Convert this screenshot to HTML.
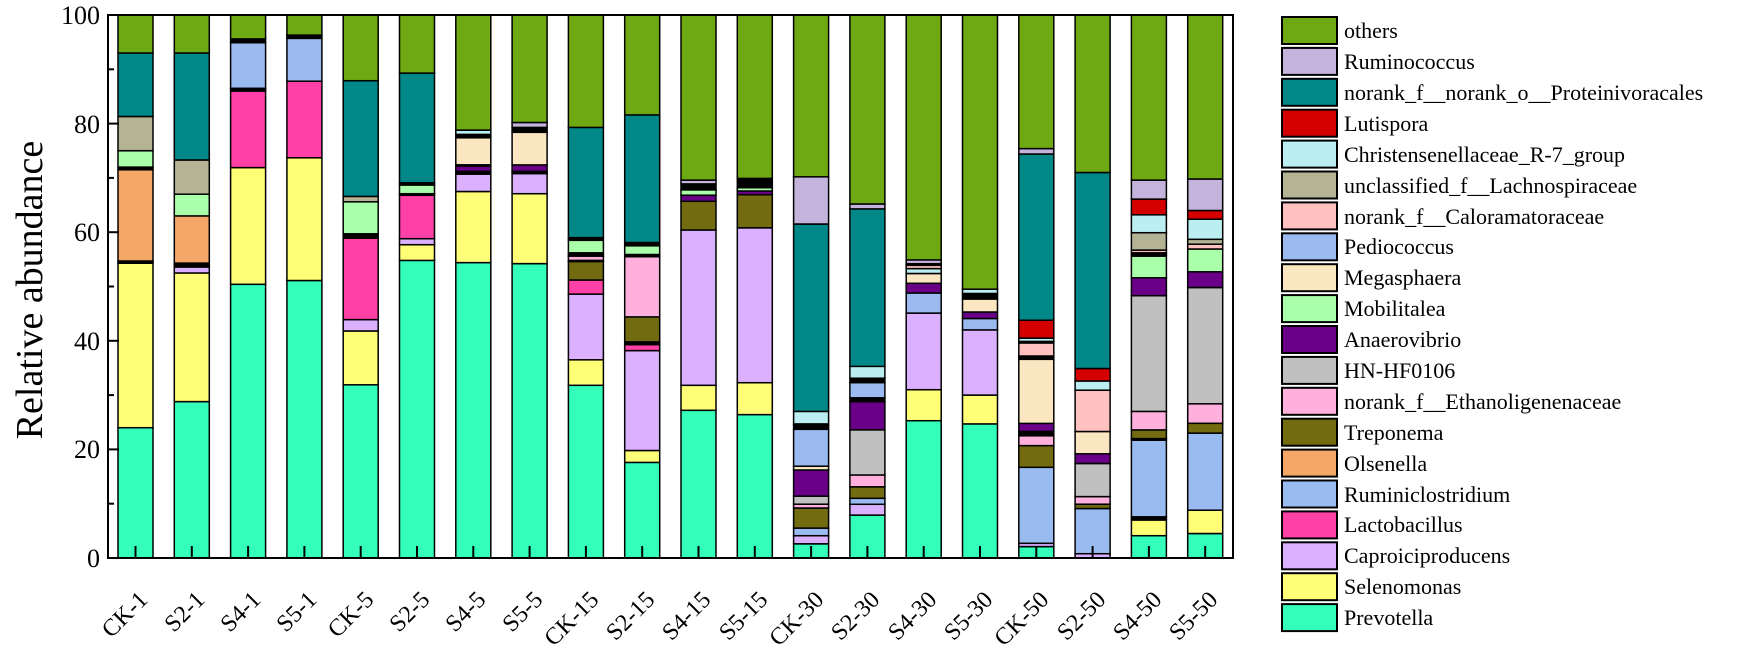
<!DOCTYPE html>
<html><head><meta charset="utf-8"><style>
html,body{margin:0;padding:0;background:#fff;}
svg{display:block;font-family:"Liberation Serif",serif;}
</style></head><body>
<svg id="s" width="1750" height="645" viewBox="0 0 1750 645" xmlns="http://www.w3.org/2000/svg">
<g id="bars"></g>
<rect x="108" y="15" width="1125" height="543" fill="none" stroke="#000" stroke-width="2"/>
<g id="ticks" stroke="#000" stroke-width="2"></g>
<g font-size="26" text-anchor="end" fill="#000">
<text x="100" y="567">0</text>
<text x="100" y="458">20</text>
<text x="100" y="350">40</text>
<text x="100" y="241">60</text>
<text x="100" y="133">80</text>
<text x="100" y="24">100</text>
</g>
<text transform="translate(42,290) rotate(-90)" font-size="38" text-anchor="middle">Relative abundance</text>
<g font-size="24" text-anchor="end" fill="#000">
<text transform="translate(149,601) rotate(-45)">CK-1</text>
<text transform="translate(206,601) rotate(-45)">S2-1</text>
<text transform="translate(262,601) rotate(-45)">S4-1</text>
<text transform="translate(318,601) rotate(-45)">S5-1</text>
<text transform="translate(375,601) rotate(-45)">CK-5</text>
<text transform="translate(431,601) rotate(-45)">S2-5</text>
<text transform="translate(487,601) rotate(-45)">S4-5</text>
<text transform="translate(544,601) rotate(-45)">S5-5</text>
<text transform="translate(600,601) rotate(-45)">CK-15</text>
<text transform="translate(656,601) rotate(-45)">S2-15</text>
<text transform="translate(712,601) rotate(-45)">S4-15</text>
<text transform="translate(769,601) rotate(-45)">S5-15</text>
<text transform="translate(825,601) rotate(-45)">CK-30</text>
<text transform="translate(881,601) rotate(-45)">S2-30</text>
<text transform="translate(938,601) rotate(-45)">S4-30</text>
<text transform="translate(994,601) rotate(-45)">S5-30</text>
<text transform="translate(1050,601) rotate(-45)">CK-50</text>
<text transform="translate(1107,601) rotate(-45)">S2-50</text>
<text transform="translate(1163,601) rotate(-45)">S4-50</text>
<text transform="translate(1219,601) rotate(-45)">S5-50</text>
</g>
<g id="legbox" stroke="#000" stroke-width="2"></g>
<g font-size="22" fill="#000">
<text x="1344" y="38">others</text>
<text x="1344" y="69">Ruminococcus</text>
<text x="1344" y="100">norank_f__norank_o__Proteinivoracales</text>
<text x="1344" y="131">Lutispora</text>
<text x="1344" y="162">Christensenellaceae_R-7_group</text>
<text x="1344" y="193">unclassified_f__Lachnospiraceae</text>
<text x="1344" y="224">norank_f__Caloramatoraceae</text>
<text x="1344" y="254">Pediococcus</text>
<text x="1344" y="285">Megasphaera</text>
<text x="1344" y="316">Mobilitalea</text>
<text x="1344" y="347">Anaerovibrio</text>
<text x="1344" y="378">HN-HF0106</text>
<text x="1344" y="409">norank_f__Ethanoligenenaceae</text>
<text x="1344" y="440">Treponema</text>
<text x="1344" y="471">Olsenella</text>
<text x="1344" y="502">Ruminiclostridium</text>
<text x="1344" y="532">Lactobacillus</text>
<text x="1344" y="563">Caproiciproducens</text>
<text x="1344" y="594">Selenomonas</text>
<text x="1344" y="625">Prevotella</text>
</g>
</svg>
<script>
var C={P:"#33FFBB",S:"#FFFF77",C:"#DAB0FF",L:"#FF40A6",R:"#99BBF0",O:"#F4A766",T:"#736B10",E:"#FFB0DD",H:"#C0C0C0",A:"#6B0088",M:"#AAFFAA",G:"#FAE6C0",D:"#9BBBF0",N:"#FFC0C0",U:"#B4B494",X:"#BBEEF0",Y:"#D40000",Q:"#008888",Z:"#C4B3DA",W:"#6EA812",K:"#000000"};
var B=[
"P24 S54.3 K54.7 O71.5 K72 M75 U81.3 Q93 W100",
"P28.8 S52.5 C53.6 K54.3 O63 M67 U73.3 Q93 W100",
"P50.4 S71.9 L86 K86.5 D94.9 K95.6 W100",
"P51.1 S73.7 L87.8 D95.7 K96.3 W100",
"P31.9 S41.8 C43.9 L58.9 K59.7 M65.6 U66.6 Q87.9 W100",
"P54.8 S57.7 C58.8 L66.8 K67.1 M68.7 K69.1 Q89.3 W100",
"P54.4 S67.5 C70.7 K71.2 A72.2 K72.4 G77.4 K78 X78.8 W100",
"P54.2 S67.1 C70.8 K71.2 A72.4 G78.4 K79.3 Z80.2 W100",
"P31.8 S36.5 C48.6 L51.2 T54.6 K54.8 E55.6 K56.2 M58.5 K59 Q79.3 W100",
"P17.6 S19.8 C38.2 L39.3 K39.8 T44.4 E55.5 K55.9 M57.5 K58.1 Q81.6 W100",
"P27.2 S31.8 C60.4 T65.7 A66.8 M67.8 K68.9 Z69.6 W100",
"P26.4 S32.3 C60.8 T66.9 A67.6 M68.2 K69.9 W100",
"P2.6 C4.1 R5.5 T9.2 E9.9 H11.4 A16.2 G16.9 D23.7 K24.7 X27 Q61.5 Z70.2 W100",
"P7.9 C9.9 R11 T13.1 E15.3 H23.6 A28.8 K29.5 D32.3 K33.1 X35.3 Q64.3 Z65.2 W100",
"P25.3 S31 C45.1 D48.8 A50.6 G52.4 X53.3 N53.9 K54.2 Z54.9 W100",
"P24.7 S30 C42 D44.1 A45.3 G47.7 K48.7 X49.5 W100",
"P2.1 C2.7 R16.7 T20.7 E22.5 K23.3 A24.8 G36.6 K37.2 N39.6 K39.9 X40.5 Y43.8 Q74.4 Z75.4 W100",
"C0.8 R9.1 T9.9 E11.3 H17.4 A19.2 G23.3 N30.9 X32.6 Y34.9 Q71 W100",
"P4.1 S7 K7.6 R21.7 K22 T23.6 E27 H48.3 A51.6 M55.6 K56.2 N56.7 U59.9 X63.2 Y66.1 Z69.6 W100",
"P4.5 S8.8 R23 T24.8 E28.4 H49.8 A52.7 M56.9 N57.8 U58.7 X62.4 Y64 Z69.8 W100"];
function y(v){return 558-v*5.43;}
var h="",tk="";
B.forEach(function(s,i){
 var x=118+56.3*i,prev=0;
 s.split(" ").forEach(function(t){
  var k=t[0],v=parseFloat(t.slice(1));
  h+='<rect x="'+x.toFixed(1)+'" y="'+y(v).toFixed(1)+'" width="35" height="'+((v-prev)*5.43).toFixed(1)+'" fill="'+C[k]+'" stroke="#000" stroke-width="1.5"/>';
  prev=v;
 });
 var cx=x+17.5;
 tk+='<line x1="'+cx+'" y1="558" x2="'+cx+'" y2="546"/>';
});
for(var v=10;v<100;v+=10){var L=(v%20==0)?11:6;tk+='<line x1="108" y1="'+y(v)+'" x2="'+(108+L)+'" y2="'+y(v)+'"/>';}
document.getElementById("bars").innerHTML=h;
document.getElementById("ticks").innerHTML=tk;
var order="WZQYXUNDGMAHETORLCSP",lb="";
for(var i=0;i<20;i++){lb+='<rect x="1282" y="'+(17+i*30.9).toFixed(1)+'" width="55" height="27" fill="'+C[order[i]]+'"/>';}
document.getElementById("legbox").innerHTML=lb;
</script>
</body></html>
